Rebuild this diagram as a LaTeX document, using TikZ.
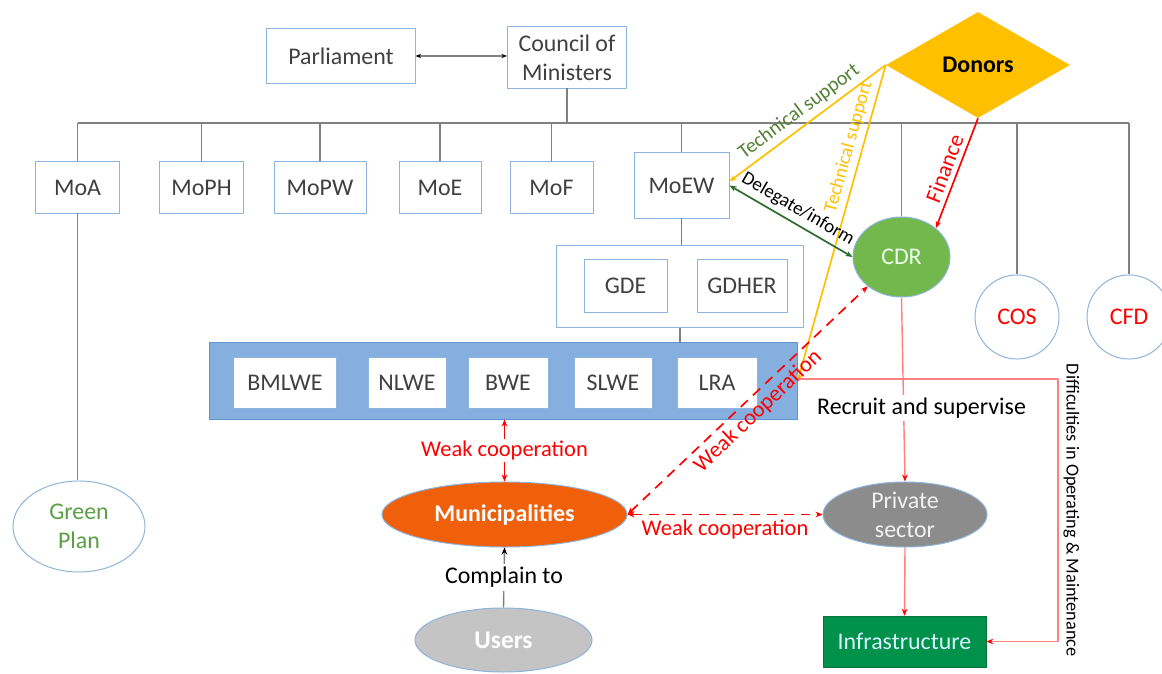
\documentclass[tikz,border=0pt]{standalone}
\usepackage{fontspec}
\setmainfont{Carlito}
\usetikzlibrary{shapes.geometric,arrows.meta}
\definecolor{boxblue}{HTML}{8DB4DC}
\definecolor{bandblue}{HTML}{84AFDE}
\definecolor{bandedge}{HTML}{5E95D0}
\definecolor{txtgray}{HTML}{404040}
\definecolor{linegray}{HTML}{808080}
\definecolor{donorgold}{HTML}{FFC000}
\definecolor{cdrgreen}{HTML}{72B84C}
\definecolor{munired}{HTML}{F0600A}
\definecolor{privgray}{HTML}{8C8C8C}
\definecolor{usergray}{HTML}{C4C4C4}
\definecolor{infragreen}{HTML}{00914A}
\definecolor{techgreen}{HTML}{548235}
\definecolor{delgreen}{HTML}{2E6B2E}
\definecolor{softred}{HTML}{FF8080}
\definecolor{plangreen}{HTML}{5A9E46}
\begin{document}
\begin{tikzpicture}[x=0.025cm, y=-0.025cm, line join=round, >={Stealth[length=5pt,width=4pt]},
	font=\fontsize{17}{20.5}\selectfont,
	box/.style={draw=boxblue, line width=0.7pt, fill=white, text=txtgray, minimum width=#1, minimum height=1.275cm, inner sep=1pt},
	box/.default=2.075cm,
	oval/.style={ellipse, draw=boxblue, line width=0.7pt, inner sep=0pt},
	conn/.style={draw=linegray, line width=0.8pt},
	yline/.style={draw=donorgold, line width=1.2pt, -{Stealth[length=5pt,width=4pt]}},
	rline/.style={draw=red, line width=1.2pt},
	pline/.style={draw=softred, line width=1pt, -{Stealth[length=5pt,width=4pt,red]}},
	wlabel/.style={text=red, font=\fontsize{16}{18}\selectfont},
	slabel/.style={font=\fontsize{13.5}{15}\selectfont}]
	\path[use as bounding box, fill=white] (0,0) rectangle (1162,674);
	% government
	\node[box=3.7cm, minimum height=1.35cm] (parl) at (341,56) {Parliament};
	\node[box=2.975cm, minimum height=1.525cm, align=center] (council) at (567,57.5) {Council of\\Ministers};
	\node[box] (moa) at (77.5,187.5) {MoA};
	\node[box] (moph) at (201.5,187.5) {MoPH};
	\node[box=2.3cm] (mopw) at (320,187.5) {MoPW};
	\node[box=2.05cm] (moe) at (440,187.5) {MoE};
	\node[box] (mof) at (551.5,187.5) {MoF};
	\node[box=2.375cm, minimum height=1.625cm] (moew) at (681.5,185.5) {MoEW};
	\node[diamond, aspect=1.74, fill=donorgold, minimum width=4.6cm, minimum height=2.65cm, inner sep=0pt, font=\fontsize{17}{20}\selectfont\bfseries] (donors) at (978,65) {Donors};
	\node[oval, fill=cdrgreen, text=white!92!green, minimum width=2.425cm, minimum height=2cm] (cdr) at (901.5,257) {CDR};
	\node[oval, text=red, minimum width=2.1cm, minimum height=2.1cm] (cos) at (1017,317) {COS};
	\node[oval, text=red, minimum width=2.1cm, minimum height=2.1cm] (cfd) at (1129,317) {CFD};
	\node[oval, text=plangreen, align=center, minimum width=3.3cm, minimum height=2.275cm] (green) at (79,526.5) {Green\\Plan};
	% directorates and establishments
	\node[box=6.15cm, minimum height=2.025cm] (gdbox) at (680,286.5) {};
	\node[box, minimum height=1.3cm] (gde) at (625.5,286) {GDE};
	\node[box=2.25cm, minimum height=1.3cm] (gdher) at (742,286) {GDHER};
	\node[draw=bandedge, fill=bandblue, line width=0.7pt, minimum width=14.675cm, minimum height=1.9cm] (band) at (503.5,381) {};
	\node[box=2.55cm] (bmlwe) at (285,382.5) {BMLWE};
	\node[box=1.95cm] (nlwe) at (407,382.5) {NLWE};
	\node[box=2cm] (bwe) at (508,382.5) {BWE};
	\node[box=1.95cm] (slwe) at (613,382.5) {SLWE};
	\node[box=2cm] (lra) at (717,382.5) {LRA};
	% local actors
	\node[oval, fill=munired, text=white, font=\fontsize{17}{20}\selectfont\bfseries, minimum width=6.125cm, minimum height=1.625cm] (muni) at (504.5,514.5) {Municipalities};
	\node[oval, fill=usergray, text=white, font=\fontsize{18}{20}\selectfont\bfseries, minimum width=4.425cm, minimum height=1.6cm] (users) at (503.5,640) {Users};
	\node[oval, fill=privgray, text=white!90!gray, align=center, minimum width=4.1cm, minimum height=1.625cm] (priv) at (905,514.5) {Private\\sector};
	\node[fill=infragreen, draw=infragreen!80!black, text=cyan!15!white, minimum width=4.075cm, minimum height=1.275cm] (infra) at (904.5,641.5) {Infrastructure};
	% hierarchy lines
	\coordinate (bus) at (567,123);
	\coordinate (dtop) at (1058,379);
	\draw[conn, {Stealth[length=4pt,width=3pt,black]}-{Stealth[length=4pt,width=3pt,black]}] (parl.east) -- (parl.east -| council.west);
	\draw[conn] (council.south) -- (council.south |- bus);
	\draw[conn] (moa.north |- bus) -- (cfd.north |- bus);
	\foreach \n in {moa,moph,mopw,moe,mof,moew,cdr,cos,cfd} \draw[conn] (\n.north) -- (\n.north |- bus);
	\draw[conn] (moa.south) -- (moa.south |- green.north);
	\draw[conn] (moew.south) -- (moew.south |- gdbox.north);
	\draw[conn] (gdbox.south) -- (gdbox.south |- band.north);
	% relations
	\draw[yline] (donors.west) -- node[sloped, above, slabel, text=techgreen, font=\fontsize{14.5}{16}\selectfont] {Technical support} (moew.5);
	\draw[yline] (donors.west) -- node[pos=0.27, sloped, above, slabel, text=donorgold] {Technical support} (band.east);
	\draw[draw=delgreen, line width=1.2pt, <->] (moew.east) -- node[sloped, above, slabel] {Delegate/inform} (cdr.west);
	\draw[rline, ->] (donors.south) -- node[sloped, above, wlabel] {Finance} (cdr.40);
	\draw[rline, dashed, dash pattern=on 7pt off 5pt, <->] (muni.east) -- node[sloped, below, wlabel] {Weak cooperation} (cdr.221);
	\draw[rline, dashed, dash pattern=on 7pt off 5pt, <->] (muni.east) -- node[below, wlabel] {Weak cooperation} (priv.west);
	\draw[draw=red, line width=1pt, <->] (muni.north |- band.south) -- node[fill=white, inner sep=1pt, wlabel] {Weak cooperation} (muni.north);
	\draw[draw=linegray, line width=1pt, -{Stealth[length=5pt,width=4pt,black]}] (users.north) -- node[fill=white, inner sep=2pt] {Complain to} (muni.south);
	\draw[pline] (cdr.south) -- node[pos=0.6, fill=white, inner sep=2pt, xshift=0.45cm] {Recruit and supervise} (priv.north);
	\draw[pline] (priv.south) -- (infra.north);
	\draw[pline] (band.east |- dtop) -- (dtop) -- node[midway, anchor=south, rotate=-90, font=\fontsize{13}{15}\selectfont] {Difficulties in Operating \& Maintenance} (dtop |- infra.east) -- (infra.east);
\end{tikzpicture}
\end{document}
